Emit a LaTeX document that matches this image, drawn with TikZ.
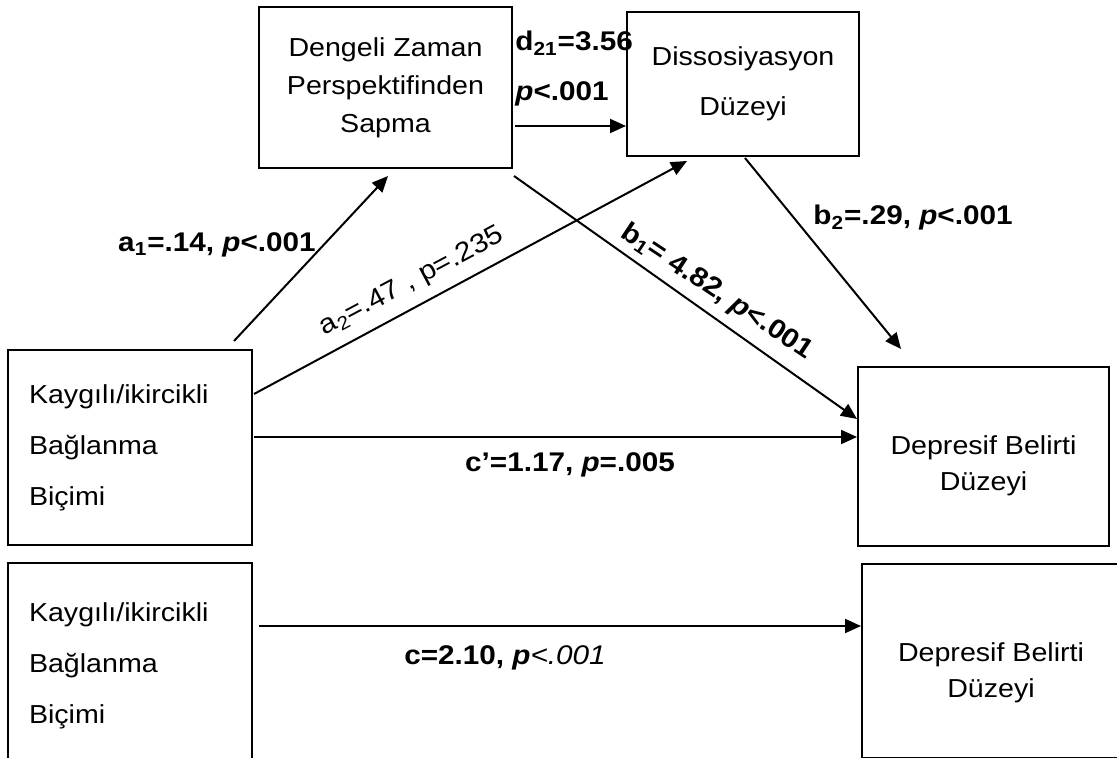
\documentclass[tikz,border=0pt]{standalone}
\usepackage{fontspec}
\setmainfont{Liberation Sans}[FakeStretch=1.1]
\usetikzlibrary{calc,arrows.meta}

\begin{document}
\begin{tikzpicture}[x=0.5pt,y=-0.5pt,
    >={Triangle[length=8pt,width=7pt]},
    box/.style={draw,line width=1pt,inner sep=0pt,align=center,font=\fontsize{13}{19}\selectfont},
    dtext/.style={inner sep=0pt,align=center,font=\fontsize{13}{18}\selectfont},
    lbl/.style={inner sep=0pt,font=\fontsize{13.5}{16}\selectfont\bfseries},
    arr/.style={->,line width=1pt}]
  \useasboundingbox (0,0) rectangle (1117,758);
  \clip (0,0) rectangle (1117,758);
  \node[box,minimum width=126.5pt,minimum height=80.5pt] (D) at (385.5,87.5) {Dengeli Zaman\\Perspektifinden\\Sapma};
  \node[box,minimum width=116pt,minimum height=72pt,font=\fontsize{13}{25}\selectfont] (S) at (743,84) {Dissosiyasyon\\Düzeyi};
  \node[box,minimum width=122pt,minimum height=97.5pt,text width=101pt,inner xsep=10.5pt,align=left,font=\fontsize{13}{25.5}\selectfont] (K1) at (130,447.5) {Kaygılı/ikircikli\\Bağlanma\\Biçimi};
  \node[box,minimum width=125.5pt,minimum height=89.5pt,label={[dtext,name=Y1t,yshift=-4.5pt]center:{Depresif Belirti\\Düzeyi}}] (Y1) at (983.5,456.5) {};
  \node[box,minimum width=122pt,minimum height=103pt,text width=101pt,inner xsep=10.5pt,align=left,font=\fontsize{13}{25.5}\selectfont] (K2) at (130,666) {Kaygılı/ikircikli\\Bağlanma\\Biçimi};
  \node[box,minimum width=129pt,minimum height=97pt,label={[dtext,name=Y2t,yshift=-6pt]center:{Depresif Belirti\\Düzeyi}}] (Y2) at (991,661) {};

  \draw[arr] ($(K1.north east)+(-19,-8)$) -- ($(D.south)+(2.5,7)$);
  \draw[arr] ($(K1.north east)+(1,45)$) -- ($(S.south west)+(61,4)$);
  \draw[arr] ($(D.south east)+(2,-43)$) -- ($(S.south west)+(0,-31)$);
  \draw[arr] ($(D.south east)+(1,7)$) -- ($(Y1.north west)+(0,53)$);
  \draw[arr] ($(S.south)+(2,1)$) -- ($(Y1.north west)+(44,-17)$);
  \draw[arr] ($(K1.east)+(1,-10.5)$) -- ($(Y1.west)+(0,-19.5)$);
  \draw[arr] ($(K2.east)+(6,-40)$) -- ($(Y2.west)+(0,-35)$);

  \node[lbl] (la1) at (217,245) {a\textsubscript{1}=.14, \textit{p}<.001};
  \node[lbl,anchor=west,align=left,font=\fontsize{13.5}{25}\selectfont\bfseries] (ld) at (515,69) {d\textsubscript{21}=3.56\\\textit{p}<.001};
  \node[lbl,font=\fontsize{13.5}{16}\selectfont,rotate=28] (la2) at (412,282) {a\textsubscript{2}=.47 , p=.235};
  \node[lbl,rotate=-33.5] (lb1) at (717,292) {b\textsubscript{1}= 4.82, \textit{p}<.001};
  \node[lbl] (lb2) at (913,218) {b\textsubscript{2}=.29, \textit{p}<.001};
  \node[lbl] (lc1) at (570,465) {c’=1.17, \textit{p}=.005};
  \node[lbl] (lc) at (505,658) {c=2.10, \textit{p}{\mdseries\itshape<.001}};
\end{tikzpicture}
\end{document}
